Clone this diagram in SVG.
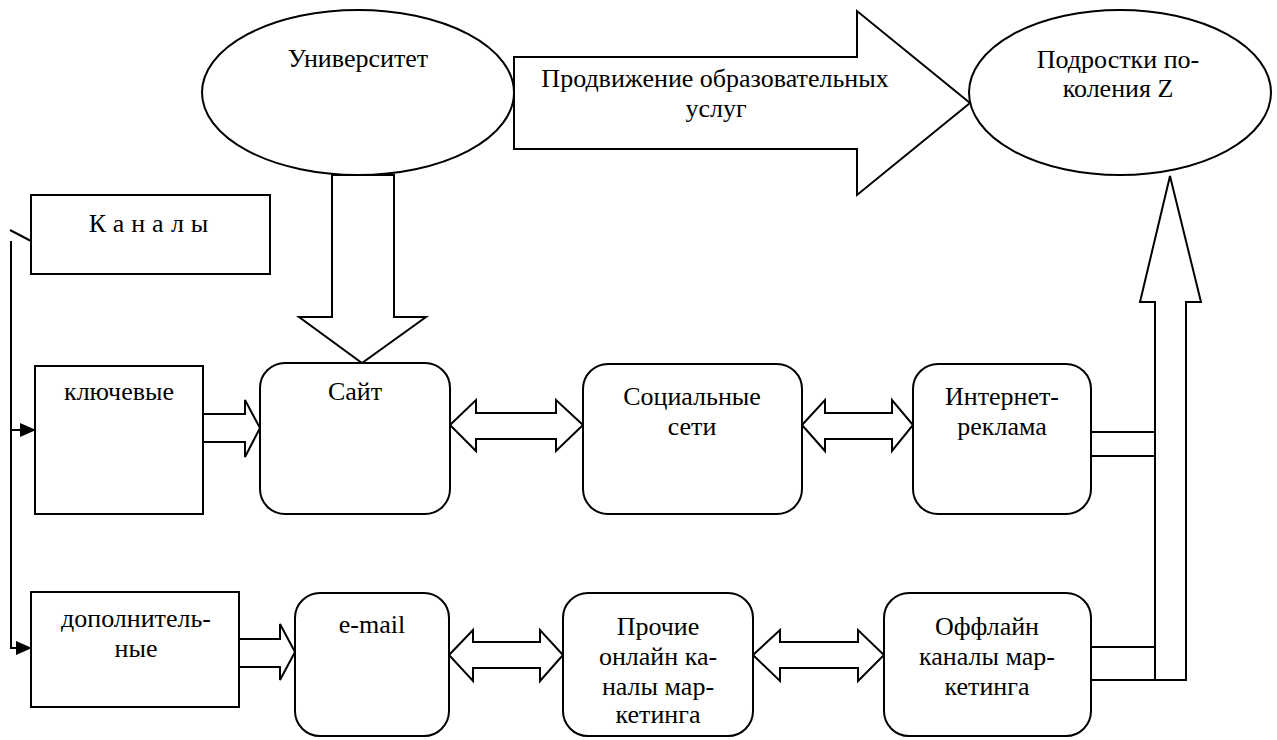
<svg xmlns="http://www.w3.org/2000/svg" width="1277" height="740" viewBox="0 0 1277 740" font-family="'Liberation Serif', 'DejaVu Serif', serif">
<style>
.s{fill:#fff;stroke:#000;stroke-width:2;stroke-linejoin:miter}
.l{fill:none;stroke:#000;stroke-width:2}
.t{font-family:'Liberation Serif','DejaVu Serif',serif;font-size:26px;fill:#000;text-anchor:middle}
</style>
<defs>
<marker id="ah" markerWidth="16" markerHeight="14" refX="15" refY="7" orient="auto" markerUnits="userSpaceOnUse" viewBox="0 0 16 14">
<path d="M0,0 L16,7 L0,14 Z" fill="#000"/>
</marker>
</defs>
<rect width="1277" height="740" fill="#fff"/>
<g id="connectors">
<polygon class="s" points="514,57 857,57 857,11 970,103 857,195 857,149 514,149"/>
<polygon class="s" points="332,175 394,175 394,317 426,317 362,363 299,317 332,317"/>
<polygon class="s" points="203,414 245,414 245,400 260,428 245,457 245,442 203,442"/>
<polygon class="s" points="239,639 280,639 280,624 295,652 280,680 280,667 239,667"/>
<polygon class="s" points="450,425 476,400 476,413 556,413 556,400 583,425 556,451 556,439 476,439 476,451"/>
<polygon class="s" points="802,425 825,400 825,413 892,413 892,400 913,425 892,451 892,439 825,439 825,451"/>
<polygon class="s" points="449,655 473,630 473,642 540,642 540,630 563,655 540,681 540,668 473,668 473,681"/>
<polygon class="s" points="753,655 780,630 780,642 858,642 858,630 884,655 858,681 858,668 780,668 780,681"/>
<rect class="s" x="1091" y="432" width="64" height="24"/>
<rect class="s" x="1091" y="647" width="64" height="33"/>
<polygon class="s" points="1155,680 1155,302 1140,302 1170,176 1201,302 1186,302 1186,680"/>
<line class="l" x1="10" y1="230" x2="31" y2="241"/>
<polyline class="l" points="11,241 11,648 31,648" marker-end="url(#ah)"/>
<line class="l" x1="11" y1="430" x2="35" y2="430" marker-end="url(#ah)"/>
</g>
<g id="university">
<ellipse class="s" cx="358" cy="92.5" rx="156" ry="82.5"/>
<text class="t" x="358" y="67">Университет</text>
</g>
<g id="promo-label">
<text class="t" x="715" y="87">Продвижение образовательных</text>
<text class="t" x="716" y="117">услуг</text>
</g>
<g id="teens">
<ellipse class="s" cx="1120" cy="92.5" rx="151" ry="82.5"/>
<text class="t" x="1118" y="68">Подростки по-</text>
<text class="t" x="1118" y="97">коления Z</text>
</g>
<g id="channels">
<rect class="s" x="31" y="195" width="239" height="79"/>
<text class="t" x="152" y="232" letter-spacing="7">Каналы</text>
</g>
<g id="key">
<rect class="s" x="35" y="366" width="168" height="148"/>
<text class="t" x="119" y="400">ключевые</text>
</g>
<g id="site">
<rect class="s" x="260" y="363" width="190" height="151" rx="25"/>
<text class="t" x="355" y="400">Сайт</text>
</g>
<g id="social">
<rect class="s" x="583" y="364" width="219" height="150" rx="25"/>
<text class="t" x="692" y="405">Социальные</text>
<text class="t" x="692" y="435">сети</text>
</g>
<g id="internet-ads">
<rect class="s" x="913" y="364" width="178" height="150" rx="25"/>
<text class="t" x="1002" y="405">Интернет-</text>
<text class="t" x="1002" y="435">реклама</text>
</g>
<g id="additional">
<rect class="s" x="31" y="592" width="208" height="115"/>
<text class="t" x="136" y="627">дополнитель-</text>
<text class="t" x="136" y="657">ные</text>
</g>
<g id="email">
<rect class="s" x="295" y="593" width="154" height="143" rx="25"/>
<text class="t" x="372" y="633">e-mail</text>
</g>
<g id="other-online">
<rect class="s" x="563" y="593" width="190" height="143" rx="25"/>
<text class="t" x="658" y="635">Прочие</text>
<text class="t" x="658" y="665">онлайн ка-</text>
<text class="t" x="658" y="695">налы мар-</text>
<text class="t" x="658" y="723">кетинга</text>
</g>
<g id="offline">
<rect class="s" x="884" y="593" width="207" height="143" rx="25"/>
<text class="t" x="987" y="635">Оффлайн</text>
<text class="t" x="987" y="665">каналы мар-</text>
<text class="t" x="987" y="695">кетинга</text>
</g>
</svg>
